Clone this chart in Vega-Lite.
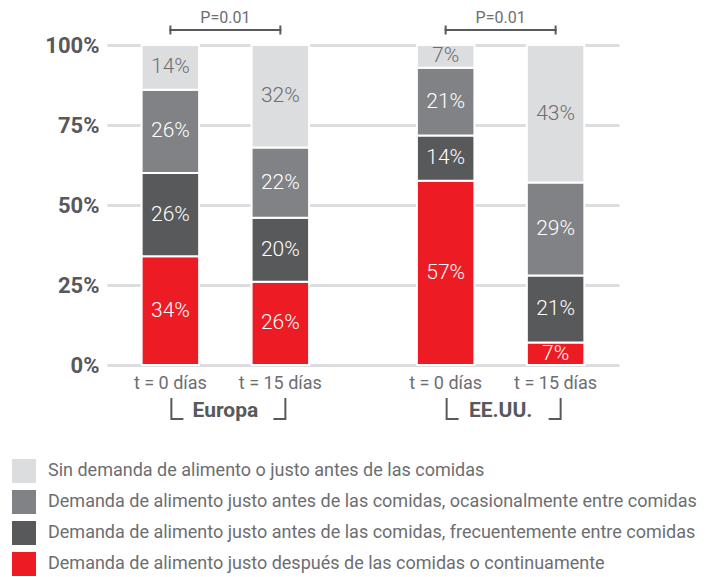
{
  "$schema": "https://vega.github.io/schema/vega-lite/v6.json",
  "width": 512,
  "height": 320,
  "autosize": {"type": "none"},
  "padding": {"left": 107, "top": 45, "right": 90, "bottom": 212},
  "background": "white",
  "config": {
    "font": "Roboto",
    "view": {"stroke": null},
    "axis": {"font": "Roboto"},
    "legend": {"labelFont": "Roboto"}
  },
  "datasets": {
    "d": [
      {"region": "Europa", "t": "t = 0 días", "cat": "Demanda de alimento justo después de las comidas o continuamente", "orden": 1, "v": 0.34},
      {"region": "Europa", "t": "t = 0 días", "cat": "Demanda de alimento justo antes de las comidas, frecuentemente entre comidas", "orden": 2, "v": 0.26},
      {"region": "Europa", "t": "t = 0 días", "cat": "Demanda de alimento justo antes de las comidas, ocasionalmente entre comidas", "orden": 3, "v": 0.26},
      {"region": "Europa", "t": "t = 0 días", "cat": "Sin demanda de alimento o justo antes de las comidas", "orden": 4, "v": 0.14},
      {"region": "Europa", "t": "t = 15 días", "cat": "Demanda de alimento justo después de las comidas o continuamente", "orden": 1, "v": 0.26},
      {"region": "Europa", "t": "t = 15 días", "cat": "Demanda de alimento justo antes de las comidas, frecuentemente entre comidas", "orden": 2, "v": 0.20},
      {"region": "Europa", "t": "t = 15 días", "cat": "Demanda de alimento justo antes de las comidas, ocasionalmente entre comidas", "orden": 3, "v": 0.22},
      {"region": "Europa", "t": "t = 15 días", "cat": "Sin demanda de alimento o justo antes de las comidas", "orden": 4, "v": 0.32},
      {"region": "EE.UU.", "t": "t = 0 días", "cat": "Demanda de alimento justo después de las comidas o continuamente", "orden": 1, "v": 0.57},
      {"region": "EE.UU.", "t": "t = 0 días", "cat": "Demanda de alimento justo antes de las comidas, frecuentemente entre comidas", "orden": 2, "v": 0.14},
      {"region": "EE.UU.", "t": "t = 0 días", "cat": "Demanda de alimento justo antes de las comidas, ocasionalmente entre comidas", "orden": 3, "v": 0.21},
      {"region": "EE.UU.", "t": "t = 0 días", "cat": "Sin demanda de alimento o justo antes de las comidas", "orden": 4, "v": 0.07},
      {"region": "EE.UU.", "t": "t = 15 días", "cat": "Demanda de alimento justo después de las comidas o continuamente", "orden": 1, "v": 0.07},
      {"region": "EE.UU.", "t": "t = 15 días", "cat": "Demanda de alimento justo antes de las comidas, frecuentemente entre comidas", "orden": 2, "v": 0.21},
      {"region": "EE.UU.", "t": "t = 15 días", "cat": "Demanda de alimento justo antes de las comidas, ocasionalmente entre comidas", "orden": 3, "v": 0.29},
      {"region": "EE.UU.", "t": "t = 15 días", "cat": "Sin demanda de alimento o justo antes de las comidas", "orden": 4, "v": 0.43}
    ]
  },
  "data": {"name": "d"},
  "layer": [
    {
      "mark": {"type": "bar", "stroke": "white", "strokeWidth": 2},
      "encoding": {
        "x": {
          "field": "region", "type": "nominal",
          "scale": {"domain": ["Europa", "EE.UU."], "paddingInner": 0.14, "paddingOuter": 0},
          "axis": {
            "title": null, "domain": false, "ticks": false, "labelAngle": 0,
            "labelPadding": 34, "labelFontSize": 21, "labelFontWeight": "bold",
            "labelColor": "#58595b"
          }
        },
        "xOffset": {
          "field": "t", "type": "nominal",
          "scale": {"domain": ["t = 0 días", "t = 15 días"], "paddingInner": 0.477, "paddingOuter": 0.315}
        },
        "y": {
          "field": "v", "type": "quantitative", "stack": "normalize",
          "scale": {"domain": [0, 1]},
          "axis": {
            "title": null, "domain": false, "ticks": false,
            "values": [0, 0.25, 0.5, 0.75, 1], "format": ".0%",
            "grid": true, "gridColor": "#dcdddf", "gridWidth": 3,
            "labelFontSize": 22, "labelFontWeight": "bold", "labelColor": "#58595b",
            "labelPadding": 8
          }
        },
        "color": {
          "field": "cat", "type": "nominal",
          "scale": {
            "domain": [
              "Sin demanda de alimento o justo antes de las comidas",
              "Demanda de alimento justo antes de las comidas, ocasionalmente entre comidas",
              "Demanda de alimento justo antes de las comidas, frecuentemente entre comidas",
              "Demanda de alimento justo después de las comidas o continuamente"
            ],
            "range": ["#dcdddf", "#808285", "#58595b", "#ed1c24"]
          },
          "legend": {
            "title": null, "orient": "none", "legendX": -95, "legendY": 414,
            "direction": "vertical",
            "symbolType": "square", "symbolSize": 576, "symbolStrokeWidth": 0, "symbolOpacity": 1,
            "labelFontSize": 18, "labelColor": "#6d6e71", "labelLimit": 700,
            "labelOffset": 12, "rowPadding": 7, "padding": 0
          }
        },
        "order": {"field": "orden", "type": "quantitative"}
      }
    },
    {
      "mark": {"type": "text", "fontSize": 21, "fontWeight": 300, "baseline": "middle", "align": "center"},
      "encoding": {
        "x": {"field": "region", "type": "nominal"},
        "xOffset": {"field": "t", "type": "nominal"},
        "y": {"field": "v", "type": "quantitative", "stack": "normalize", "bandPosition": 0.5},
        "detail": {"field": "cat"},
        "order": {"field": "orden", "type": "quantitative"},
        "text": {"field": "v", "type": "quantitative", "format": ".0%"},
        "color": {
          "condition": {"test": "datum.orden === 4", "value": "#6d6e71"},
          "value": "white"
        }
      }
    },
    {
      "transform": [{"filter": "datum.orden === 1"}],
      "mark": {"type": "text", "fontSize": 18, "baseline": "top", "align": "center", "dy": 10, "color": "#6d6e71"},
      "encoding": {
        "x": {"field": "region", "type": "nominal"},
        "xOffset": {"field": "t", "type": "nominal"},
        "y": {"datum": 0, "type": "quantitative"},
        "text": {"field": "t"}
      }
    },
    {
      "transform": [{"filter": "datum.orden === 1 && datum.t === 't = 0 días'"}],
      "mark": {"type": "tick", "orient": "vertical", "size": 22, "thickness": 2, "yOffset": 44, "xOffset": -54, "color": "#58595b", "opacity": 1},
      "encoding": {
        "x": {"field": "region", "type": "nominal"},
        "y": {"datum": 0, "type": "quantitative"}
      }
    },
    {
      "transform": [{"filter": "datum.orden === 1 && datum.t === 't = 0 días'"}],
      "mark": {"type": "tick", "orient": "vertical", "size": 22, "thickness": 2, "yOffset": 44, "xOffset": 60, "color": "#58595b", "opacity": 1},
      "encoding": {
        "x": {"field": "region", "type": "nominal"},
        "y": {"datum": 0, "type": "quantitative"}
      }
    },
    {
      "transform": [{"filter": "datum.orden === 1 && datum.t === 't = 0 días'"}],
      "mark": {"type": "tick", "orient": "horizontal", "size": 12, "thickness": 2, "yOffset": 54, "xOffset": -48, "color": "#58595b", "opacity": 1},
      "encoding": {
        "x": {"field": "region", "type": "nominal"},
        "y": {"datum": 0, "type": "quantitative"}
      }
    },
    {
      "transform": [{"filter": "datum.orden === 1 && datum.t === 't = 0 días'"}],
      "mark": {"type": "tick", "orient": "horizontal", "size": 12, "thickness": 2, "yOffset": 54, "xOffset": 54, "color": "#58595b", "opacity": 1},
      "encoding": {
        "x": {"field": "region", "type": "nominal"},
        "y": {"datum": 0, "type": "quantitative"}
      }
    },
    {
      "transform": [{"filter": "datum.orden === 1 && datum.t === 't = 0 días'"}],
      "mark": {"type": "tick", "orient": "horizontal", "size": 112, "thickness": 2, "yOffset": -15, "color": "#58595b", "opacity": 1},
      "encoding": {
        "x": {"field": "region", "type": "nominal"},
        "y": {"datum": 1, "type": "quantitative"}
      }
    },
    {
      "transform": [{"filter": "datum.orden === 1"}],
      "mark": {"type": "tick", "orient": "vertical", "size": 9, "thickness": 2, "yOffset": -15, "color": "#58595b", "opacity": 1},
      "encoding": {
        "x": {"field": "region", "type": "nominal"},
        "xOffset": {"field": "t", "type": "nominal"},
        "y": {"datum": 1, "type": "quantitative"}
      }
    },
    {
      "transform": [{"filter": "datum.orden === 1 && datum.t === 't = 0 días'"}],
      "mark": {"type": "text", "fontSize": 16, "baseline": "middle", "align": "center", "dy": -27, "color": "#6d6e71"},
      "encoding": {
        "x": {"field": "region", "type": "nominal"},
        "y": {"datum": 1, "type": "quantitative"},
        "text": {"value": "P=0.01"}
      }
    }
  ]
}
